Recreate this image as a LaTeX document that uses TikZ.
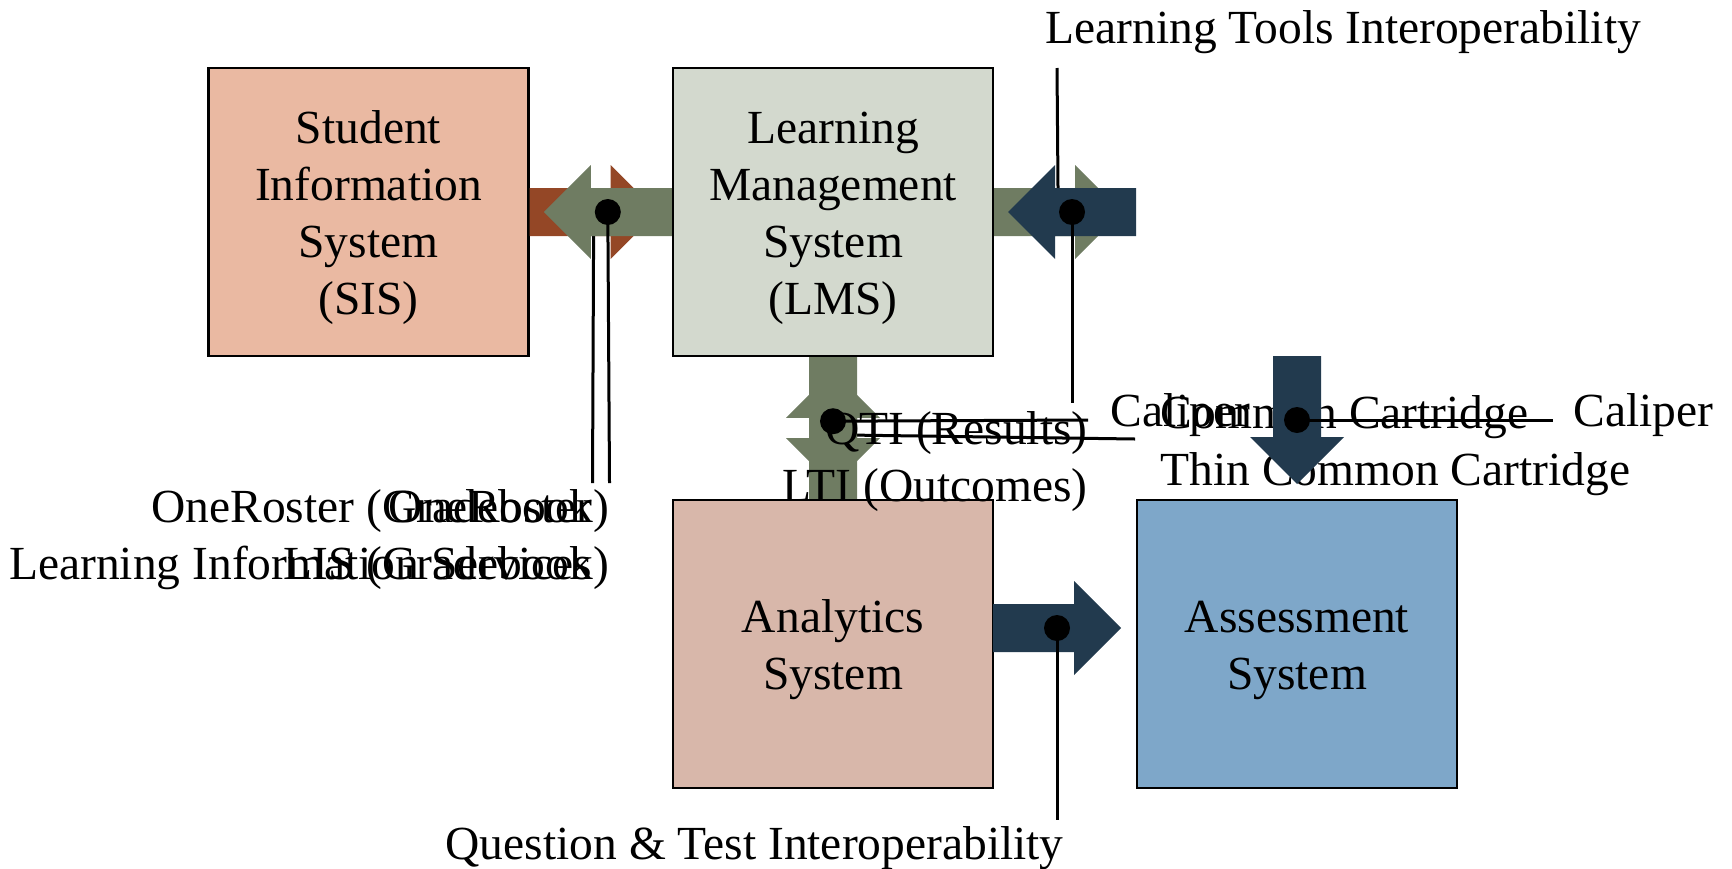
\documentclass[tikz,border=0pt]{standalone}
\usepackage{fontspec}
\setmainfont{Liberation Serif}
\usetikzlibrary{calc}
\definecolor{sisC}{RGB}{234,185,162}
\definecolor{lmsC}{RGB}{211,217,206}
\definecolor{anaC}{RGB}{216,183,170}
\definecolor{asmC}{RGB}{126,167,201}
\definecolor{brownA}{RGB}{148,71,38}
\definecolor{greenA}{RGB}{111,124,98}
\definecolor{blueA}{RGB}{34,58,78}
\newcommand\blockarr[3]{\fill[#1,shift={(#2)},rotate=#3] (0,24) -- (81,24) -- (81,47) -- (128,0) -- (81,-47) -- (81,-24) -- (0,-24) -- cycle;}
\newcommand\topstrut{\rule{0pt}{26pt}}
\tikzset{
  box/.style={draw=black, line width=1.2pt, minimum width=160pt, minimum height=144pt,
    inner sep=0pt, align=center, font=\fontsize{23.75}{28.5}\selectfont},
  lbl/.style={inner sep=0pt, font=\fontsize{23.75}{28.5}\selectfont},
  callout/.style={draw=black, line width=1.5pt},
  hub/.style={fill=black}
}
\begin{document}
\begin{tikzpicture}[x=0.5pt,y=-0.5pt]
\useasboundingbox (0,0) rectangle (1732,868);
% systems
\node[box,fill=sisC] (sis) at (368.5,212) {\topstrut Student\\\strut Information\\\strut System\\\strut (SIS)};
\node[box,fill=lmsC] (lms) at (833,212) {\topstrut Learning\\\strut Management\\\strut System\\\strut (LMS)};
\node[box,fill=anaC] (ana) at (833,644) {\topstrut Analytics\\\strut System};
\node[box,fill=asmC] (asm) at (1297,644) {\topstrut Assessment\\\strut System};
% arrow tails
\coordinate (tA) at (sis.east);
\coordinate (tB) at (lms.west);
\coordinate (tC) at (lms.east);
\coordinate (tD) at (1136,212);
\coordinate (tG1) at (lms.south);
\coordinate (tG2) at (ana.north);
\coordinate (tD5) at (1297,356);
\coordinate (tD6) at (993,628);
% arrow centres
\coordinate (cA) at ($(tA)+(64,0)$);
\coordinate (cB) at ($(tB)+(-64,0)$);
\coordinate (cC) at ($(tC)+(64,0)$);
\coordinate (cD) at ($(tD)+(-64,0)$);
\coordinate (cG1) at ($(tG1)+(0,64)$);
\coordinate (cG2) at ($(tG2)+(0,-64)$);
\coordinate (cD5) at ($(tD5)+(0,64)$);
\coordinate (cD6) at ($(tD6)+(64,0)$);
% callout ends
\coordinate (eA) at (592.5,483);
\coordinate (eB) at (609.5,483);
\coordinate (eC) at (1057,68);
\coordinate (eD) at (1072,403);
\coordinate (eG1) at (1088,420);
\coordinate (eG2) at (1135,439);
\coordinate (eD5) at (1553,420);
\coordinate (eD6) at (1057,820);
% SIS <-> LMS
\blockarr{brownA}{tA}{0}
\fill[hub] (cA) circle[radius=6.5pt];
\draw[callout] (cA) -- (eA);
\blockarr{greenA}{tB}{180}
\fill[hub] (cB) circle[radius=6.5pt];
\draw[callout] (cB) -- (eB);
% LMS <-> right
\blockarr{greenA}{tC}{0}
\fill[hub] (cC) circle[radius=6.5pt];
\draw[callout] (cC) -- (eC);
\blockarr{blueA}{tD}{180}
\fill[hub] (cD) circle[radius=6.5pt];
\draw[callout] (cD) -- (eD);
% LMS <-> Analytics
\blockarr{greenA}{tG2}{90}
\fill[hub] (cG2) circle[radius=6.5pt];
\draw[callout] (cG2) -- (eG2);
\blockarr{greenA}{tG1}{-90}
\fill[hub] (cG1) circle[radius=6.5pt];
\draw[callout] (cG1) -- (eG1);
% labels
\node[lbl, align=right, anchor=north east] (lA) at (592.5,482) {\strut OneRoster\\\strut Learning Information Services};
\node[lbl, align=right, anchor=north east] (lB) at (609.5,482) {\strut OneRoster (Gradebook)\\\strut LIS (Gradebook)};
\node[lbl, anchor=base west] (lC) at (1045,43) {Learning Tools Interoperability};
\node[lbl, anchor=base west] (lD) at (1110,426) {Caliper};
\node[lbl, align=right, anchor=north east] (lG1) at (1088,404) {\strut QTI (Results)\\\strut LTI (Outcomes)};
\node[lbl, align=left, anchor=north west] (lG2) at (1160,388) {\strut Common Cartridge\\\strut Thin Common Cartridge};
\node[lbl, anchor=base west] (lD5) at (1573,426) {Caliper};
\node[lbl, anchor=base east] (lD6) at (1064,859) {Question \& Test Interoperability};
% LMS -> Assessment
\blockarr{blueA}{tD5}{-90}
\fill[hub] (cD5) circle[radius=6.5pt];
\draw[callout] (cD5) -- (eD5);
% Analytics -> Assessment
\blockarr{blueA}{tD6}{0}
\fill[hub] (cD6) circle[radius=6.5pt];
\draw[callout] (cD6) -- (eD6);
\end{tikzpicture}
\end{document}
